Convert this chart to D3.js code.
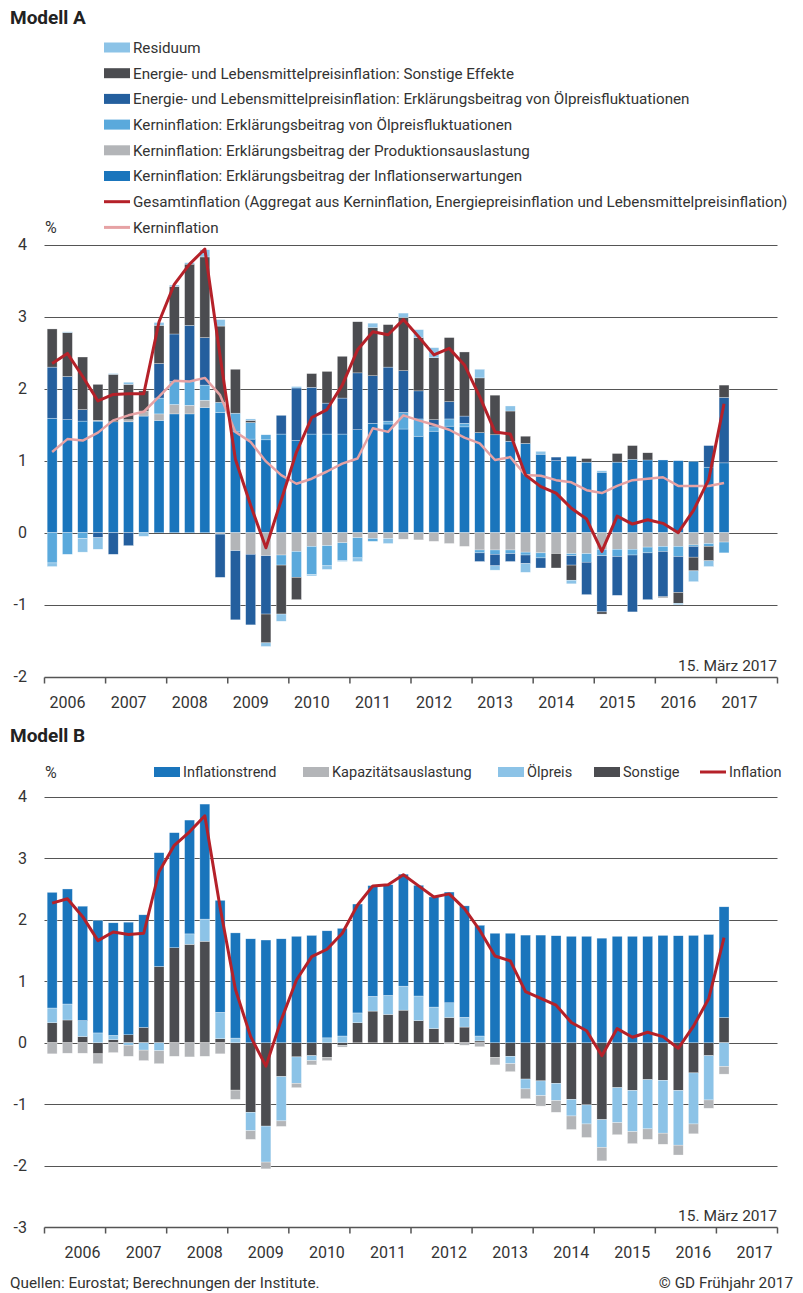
<!DOCTYPE html>
<html>
<head>
<meta charset="utf-8">
<script src="https://cdn.jsdelivr.net/npm/d3@7"></script>
<style>
  body { margin: 0; background: #fff; }
  svg text { font-family: Roboto, "Noto Sans", sans-serif; fill: #333; }
</style>
</head>
<body>
<svg id="chart" width="803" height="1293"></svg>
<script>
// quarters 2006Q1 .. 2017Q4 (data ends 2017Q1)
const years = d3.range(2006, 2018);
const quarters = years.flatMap(y => [1, 2, 3, 4].map(q => `${y}Q${q}`));
const dataQuarters = quarters.slice(0, 45);

// Modell A – components
const a_erwartungen = [1.59,1.57,1.55,1.55,1.54,1.54,1.62,1.56,1.65,1.65,1.74,1.67,1.40,1.30,1.29,1.37,1.28,1.37,1.37,1.37,1.43,1.52,1.51,1.44,1.34,1.41,1.48,1.47,1.39,1.36,1.27,1.24,1.09,1.00,1.06,0.98,0.84,0.98,1.02,1.01,1.01,1.00,0.99,0.91,0.97];
const a_produktion  = [0,0,0,0.01,0,0.03,0.07,0.09,0.13,0.12,0.10,-0.02,-0.25,-0.30,-0.32,-0.31,-0.26,-0.19,-0.18,-0.14,-0.07,-0.08,-0.08,-0.09,-0.10,-0.12,-0.15,-0.19,-0.24,-0.24,-0.24,-0.27,-0.28,-0.29,-0.29,-0.29,-0.23,-0.23,-0.23,-0.20,-0.19,-0.19,-0.17,-0.15,-0.13];
const a_kernOel     = [-0.42,-0.30,-0.08,0,0,0,0,0.22,0.32,0.33,0.21,0.14,0.26,0.23,0.07,-0.14,-0.36,-0.39,-0.28,-0.25,-0.28,-0.04,0.04,0.23,0.24,0.06,0.10,0.05,-0.04,-0.06,-0.05,-0.04,-0.07,0,-0.03,-0.12,-0.09,-0.10,-0.08,-0.08,-0.07,-0.14,-0.02,-0.04,-0.15];
const a_energieOel  = [0.71,0.60,0.16,-0.07,-0.30,-0.18,0,0.48,0.66,0.78,0.66,-0.60,-0.96,-0.98,-0.81,0.26,0.73,0.65,0.43,0.50,0.79,0.66,0.75,0.58,0.39,0.10,0.24,0.10,-0.12,-0.16,-0.11,-0.12,-0.14,0.05,-0.13,-0.45,-0.78,-0.54,-0.79,-0.65,-0.63,-0.50,-0.15,0.30,0.91];
const a_sonstige    = [0.53,0.61,0.73,0.50,0.66,0.49,0.28,0.53,0.66,0.85,1.12,1.06,0.61,0.03,-0.40,-0.68,-0.31,0.19,0.44,0.58,0.71,0.67,0.59,0.74,0.74,0.86,0.89,0.89,0.76,0.55,0.42,0.10,0,-0.20,-0.21,0.05,-0.03,0.12,0.19,0.10,-0.01,-0.15,-0.19,-0.20,0.17];
const a_residuum    = [-0.05,0.01,-0.19,-0.16,0.01,0.03,-0.05,0.04,0.02,0.02,0.10,0.09,0,0.02,-0.05,-0.10,0.02,-0.02,-0.05,-0.01,-0.05,0.06,-0.07,0.06,0.11,0.14,0,0,0.12,-0.06,0.07,-0.12,0.04,0,-0.05,0,0.02,0,0,0,0,-0.02,-0.15,-0.08,0];
const a_gesamt      = [2.35,2.49,2.17,1.83,1.92,1.93,1.93,2.93,3.45,3.73,3.94,2.45,1.02,0.38,-0.21,0.45,1.12,1.60,1.71,2.05,2.54,2.79,2.75,2.96,2.72,2.47,2.56,2.33,1.89,1.40,1.37,0.80,0.64,0.55,0.34,0.19,-0.26,0.23,0.12,0.18,0.13,0.00,0.31,0.74,1.79];
const a_kern        = [1.12,1.30,1.28,1.39,1.56,1.63,1.68,1.89,2.11,2.10,2.15,1.91,1.40,1.26,0.99,0.80,0.68,0.75,0.85,0.96,1.03,1.45,1.40,1.63,1.56,1.50,1.43,1.32,1.24,1.01,1.05,0.80,0.79,0.73,0.70,0.59,0.55,0.65,0.73,0.75,0.77,0.65,0.65,0.65,0.69];

// Modell B – components
const b_trend     = [1.88,1.87,1.86,1.83,1.83,1.83,1.83,1.85,1.87,1.85,1.87,1.82,1.71,1.69,1.67,1.69,1.73,1.745,1.74,1.75,1.77,1.80,1.80,1.82,1.80,1.79,1.80,1.81,1.80,1.78,1.78,1.75,1.75,1.74,1.73,1.73,1.70,1.73,1.73,1.73,1.745,1.74,1.745,1.76,1.80];
const b_kapazitaet = [-0.18,-0.17,-0.17,-0.16,-0.16,-0.18,-0.17,-0.21,-0.22,-0.23,-0.22,-0.18,-0.15,-0.14,-0.11,-0.09,-0.07,-0.07,-0.05,-0.03,0,0,0,0,0,0,-0.02,-0.04,-0.065,-0.12,-0.13,-0.16,-0.17,-0.19,-0.22,-0.22,-0.22,-0.195,-0.195,-0.17,-0.18,-0.16,-0.16,-0.135,-0.125];
const b_oelpreis  = [0.24,0.26,0.26,0.16,0.07,-0.04,-0.12,-0.13,0,0.17,0.36,0.43,0.076,-0.30,-0.585,-0.72,-0.43,-0.08,0.08,0.11,0.16,0.24,0.31,0.39,0.40,0.35,0.24,0.16,0.08,0,-0.12,-0.16,-0.24,-0.28,-0.27,-0.31,-0.45,-0.57,-0.67,-0.80,-0.86,-0.89,-0.83,-0.72,-0.385];
const b_sonstige  = [0.325,0.37,0.10,-0.18,0.05,0.13,0.25,1.24,1.545,1.60,1.65,0.065,-0.77,-1.13,-1.355,-0.55,-0.23,-0.21,-0.24,-0.04,0.325,0.515,0.46,0.53,0.36,0.23,0.41,0.255,0.03,-0.24,-0.22,-0.59,-0.62,-0.66,-0.92,-1.01,-1.25,-0.73,-0.775,-0.60,-0.61,-0.775,-0.49,-0.21,0.41];
const b_inflation = [2.27,2.34,2.05,1.66,1.80,1.76,1.78,2.78,3.21,3.43,3.69,2.20,0.87,0.10,-0.38,0.37,1.02,1.40,1.52,1.78,2.24,2.55,2.57,2.73,2.55,2.37,2.42,2.18,1.83,1.41,1.33,0.83,0.72,0.61,0.33,0.195,-0.21,0.23,0.09,0.17,0.10,-0.09,0.27,0.72,1.71];

const ticksA = [-2, -1, 0, 1, 2, 3, 4];
const ticksB = [-3, -2, -1, 0, 1, 2, 3, 4];

const C = {
  residuum: '#8cc3e7',
  sonstige: '#4b4c50',
  energieOel: '#245f9e',
  kernOel: '#5aa9dc',
  produktion: '#b3b5b8',
  erwartungen: '#1a75bc',
  red: '#b52129',
  pink: '#e6a2a4'
};

const svg = d3.select('#chart');

const x = d3.scaleBand()
  .domain(quarters)
  .range([44.5, 777.5])
  .paddingInner(0.35)
  .paddingOuter(0.175);

function drawPanel(cfg) {
  const g = svg.append('g');
  const y = d3.scaleLinear().domain(cfg.domain).range(cfg.range);

  // gridlines
  g.selectAll('line.grid')
    .data(cfg.ticks.slice(1))
    .enter().append('line')
    .attr('x1', x.range()[0]).attr('x2', x.range()[1])
    .attr('y1', d => Math.round(y(d)) + 0.5).attr('y2', d => Math.round(y(d)) + 0.5)
    .attr('stroke', '#555').attr('stroke-width', 1);

  // y labels
  g.selectAll('text.ylab')
    .data(cfg.ticks)
    .enter().append('text')
    .attr('x', 27).attr('y', d => y(d))
    .attr('dy', '0.35em')
    .attr('text-anchor', 'end')
    .style('font-size', '16px')
    .text(d => d);

  // stacked bars
  const rows = dataQuarters.map((q, i) => {
    const r = { q };
    cfg.keys.forEach((k, j) => { r[k] = cfg.series[j][i]; });
    return r;
  });
  const stack = d3.stack().keys(cfg.keys).offset(d3.stackOffsetDiverging)(rows);
  g.selectAll('g.layer')
    .data(stack)
    .enter().append('g')
    .attr('fill', d => cfg.colors[d.key])
    .selectAll('rect')
    .data(d => d)
    .enter().append('rect')
    .attr('x', d => x(d.data.q))
    .attr('width', x.bandwidth())
    .attr('y', d => y(Math.max(d[0], d[1])))
    .attr('height', d => Math.abs(y(d[0]) - y(d[1])))
    .attr('stroke', '#fff').attr('stroke-width', 0.5).attr('stroke-opacity', 0.6);

  // lines
  cfg.lines.forEach(l => {
    g.append('path')
      .datum(l.values)
      .attr('fill', 'none')
      .attr('stroke', l.color)
      .attr('stroke-width', l.width)
      .attr('stroke-linejoin', 'round')
      .attr('d', d3.line()
        .x((d, i) => x(dataQuarters[i]) + x.bandwidth() / 2)
        .y(d => y(d)));
  });

  // x axis
  const axisY = Math.round(y(cfg.domain[0])) + 0.5;
  const half = x.step() * x.paddingInner() / 2;
  const tickXs = years.map(yr => x(`${yr}Q1`) - half).concat([x.range()[1]]);
  g.append('line')
    .attr('x1', x.range()[0]).attr('x2', x.range()[1])
    .attr('y1', axisY).attr('y2', axisY)
    .attr('stroke', '#555').attr('stroke-width', 1.5);
  g.selectAll('line.xt')
    .data(tickXs)
    .enter().append('line')
    .attr('x1', d => d).attr('x2', d => d)
    .attr('y1', axisY).attr('y2', axisY + 6)
    .attr('stroke', '#555').attr('stroke-width', 1.5);
  g.selectAll('text.xlab')
    .data(years)
    .enter().append('text')
    .attr('x', yr => x(`${yr}Q1`) - half + x.step() * 2 + cfg.labelShift)
    .attr('y', axisY + 30)
    .attr('text-anchor', 'middle')
    .style('font-size', '16px')
    .text(d => d);

  // date stamp
  g.append('text')
    .attr('x', 777).attr('y', axisY - 7)
    .attr('text-anchor', 'end')
    .style('font-size', '15.5px')
    .text('15. März 2017');

  // percent sign
  g.append('text')
    .attr('x', 45).attr('y', cfg.pctY)
    .attr('dy', '0.35em')
    .style('font-size', '16px')
    .text('%');
}

// titles
svg.append('text').attr('x', 10).attr('y', 24)
  .style('font-size', '19px').style('font-weight', 'bold').style('fill', '#222')
  .text('Modell A');
svg.append('text').attr('x', 10).attr('y', 742)
  .style('font-size', '19px').style('font-weight', 'bold').style('fill', '#222')
  .text('Modell B');

// legend A
const legendA = [
  { label: 'Residuum', color: C.residuum, type: 'rect' },
  { label: 'Energie- und Lebensmittelpreisinflation: Sonstige Effekte', color: C.sonstige, type: 'rect' },
  { label: 'Energie- und Lebensmittelpreisinflation: Erklärungsbeitrag von Ölpreisfluktuationen', color: C.energieOel, type: 'rect' },
  { label: 'Kerninflation: Erklärungsbeitrag von Ölpreisfluktuationen', color: C.kernOel, type: 'rect' },
  { label: 'Kerninflation: Erklärungsbeitrag der Produktionsauslastung', color: C.produktion, type: 'rect' },
  { label: 'Kerninflation: Erklärungsbeitrag der Inflationserwartungen', color: C.erwartungen, type: 'rect' },
  { label: 'Gesamtinflation (Aggregat aus Kerninflation, Energiepreisinflation und Lebensmittelpreisinflation)', color: C.red, type: 'line' },
  { label: 'Kerninflation', color: C.pink, type: 'line' }
];
const la = svg.append('g');
legendA.forEach((d, i) => {
  const cy = 47.5 + i * 25.7;
  if (d.type === 'rect') {
    la.append('rect').attr('x', 104).attr('y', cy - 5).attr('width', 26).attr('height', 10).attr('fill', d.color);
  } else {
    la.append('line').attr('x1', 104).attr('x2', 130).attr('y1', cy).attr('y2', cy)
      .attr('stroke', d.color).attr('stroke-width', 3);
  }
  la.append('text').attr('x', 133).attr('y', cy).attr('dy', '0.35em')
    .style('font-size', '15.2px').text(d.label);
});

// legend B
const legendB = [
  { label: 'Inflationstrend', color: C.erwartungen, type: 'rect', x: 154 },
  { label: 'Kapazitätsauslastung', color: C.produktion, type: 'rect', x: 303 },
  { label: 'Ölpreis', color: C.residuum, type: 'rect', x: 498 },
  { label: 'Sonstige', color: C.sonstige, type: 'rect', x: 594 },
  { label: 'Inflation', color: C.red, type: 'line', x: 700 }
];
const lb = svg.append('g');
legendB.forEach(d => {
  const cy = 772;
  if (d.type === 'rect') {
    lb.append('rect').attr('x', d.x).attr('y', cy - 5).attr('width', 26).attr('height', 10).attr('fill', d.color);
  } else {
    lb.append('line').attr('x1', d.x).attr('x2', d.x + 26).attr('y1', cy).attr('y2', cy)
      .attr('stroke', d.color).attr('stroke-width', 3);
  }
  lb.append('text').attr('x', d.x + 29).attr('y', cy).attr('dy', '0.35em')
    .style('font-size', '14.5px').text(d.label);
});

drawPanel({
  domain: [-2, 4], range: [676.7, 244.7], ticks: ticksA, labelShift: -7.5, pctY: 227,
  keys: ['erwartungen', 'produktion', 'kernOel', 'energieOel', 'sonstige', 'residuum'],
  series: [a_erwartungen, a_produktion, a_kernOel, a_energieOel, a_sonstige, a_residuum],
  colors: C,
  lines: [
    { values: a_kern, color: C.pink, width: 2.5 },
    { values: a_gesamt, color: C.red, width: 3 }
  ]
});

drawPanel({
  domain: [-3, 4], range: [1227.3, 796.7], ticks: ticksB, labelShift: 7.5, pctY: 772,
  keys: ['sonstige', 'oelpreis', 'kapazitaet', 'trend'],
  series: [b_sonstige, b_oelpreis, b_kapazitaet, b_trend],
  colors: { sonstige: C.sonstige, oelpreis: C.residuum, kapazitaet: C.produktion, trend: C.erwartungen },
  lines: [{ values: b_inflation, color: C.red, width: 3 }]
});

// footer
svg.append('text').attr('x', 10).attr('y', 1288).style('font-size', '15.3px')
  .text('Quellen: Eurostat; Berechnungen der Institute.');
svg.append('text').attr('x', 793).attr('y', 1288).attr('text-anchor', 'end').style('font-size', '15.3px')
  .text('© GD Frühjahr 2017');
</script>
</body>
</html>
